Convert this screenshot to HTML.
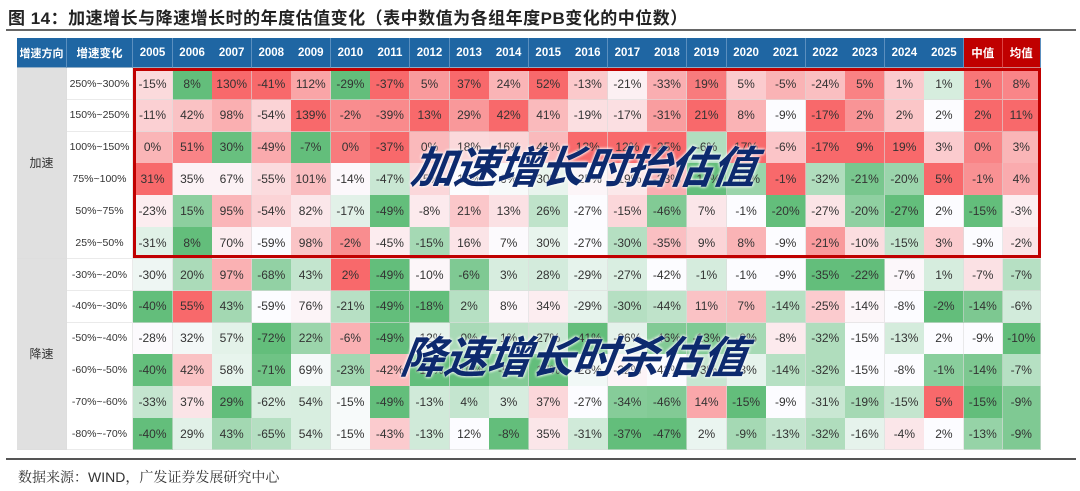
<!DOCTYPE html>
<html><head><meta charset="utf-8">
<style>
body{margin:0;width:1080px;height:491px;background:#fff;position:relative;overflow:hidden;font-family:"Liberation Sans","Noto Sans CJK SC",sans-serif;}
.c{position:absolute;display:flex;align-items:center;justify-content:center;font-size:12px;color:#333;box-sizing:border-box;white-space:nowrap;border-right:1px solid rgba(220,220,220,0.6);border-bottom:1px solid rgba(220,220,220,0.6);}
.h{color:#fff;font-weight:bold;font-size:11.5px;background:#1f66a3;border-right:1px solid #5b8fbf;}
.big{position:absolute;font-size:44px;font-weight:bold;font-style:italic;color:#0d2a6e;letter-spacing:-1px;text-shadow:0 0 3px #fff,0 0 3px #fff;white-space:nowrap;font-family:"Noto Sans CJK SC",sans-serif;transform:skewX(-8deg);}
</style></head><body>
<div style="position:absolute;left:8px;top:4px;font-size:17px;font-weight:bold;color:#222;letter-spacing:0.5px;font-family:'Liberation Sans','Noto Sans CJK SC',sans-serif;">图 14：加速增长与降速增长时的年度估值变化（表中数值为各组年度PB变化的中位数）</div>
<div style="position:absolute;left:6px;top:29px;width:1070px;height:2px;background:#666"></div>
<div style="position:absolute;left:6px;top:458px;width:1070px;height:2px;background:#555"></div>
<div style="position:absolute;left:18px;top:467px;font-size:14px;color:#333;font-family:'Liberation Sans','Noto Serif CJK SC',serif;">数据来源：WIND，广发证券发展研究中心</div>
<div id="t"></div>
<div style="position:absolute;left:133px;top:68px;width:908px;height:190px;border:3px solid #c00000;box-sizing:border-box;"></div>
<div class="big" style="left:412px;top:132px;">加速增长时抬估值</div>
<div class="big" style="left:402px;top:322px;">降速增长时杀估值</div>
<script>
var rows=[
["250%~300%",-15,8,130,-41,112,-29,-37,5,37,24,52,-13,-21,-33,19,5,-5,-24,5,1,1,1,8],
["150%~250%",-11,42,98,-54,139,-2,-39,13,29,42,41,-19,-17,-31,21,8,-9,-17,2,2,2,2,11],
["100%~150%",0,51,30,-49,-7,0,-37,0,18,16,41,13,12,-25,-6,17,-6,-17,9,19,3,0,3],
["75%~100%",31,35,67,-55,101,-14,-47,-5,12,6,30,-25,-19,-33,-17,-10,-1,-32,-21,-20,5,-1,4],
["50%~75%",-23,15,95,-54,82,-17,-49,-8,21,13,26,-27,-15,-46,7,-1,-20,-27,-20,-27,2,-15,-3],
["25%~50%",-31,8,70,-59,98,-2,-45,-15,16,7,30,-27,-30,-35,9,8,-9,-21,-10,-15,3,-9,-2],
["-30%~-20%",-30,20,97,-68,43,2,-49,-10,-6,3,28,-29,-27,-42,-1,-1,-9,-35,-22,-7,1,-7,-7],
["-40%~-30%",-40,55,43,-59,76,-21,-49,-18,2,8,34,-29,-30,-44,11,7,-14,-25,-14,-8,-2,-14,-6],
["-50%~-40%",-28,32,57,-72,22,-6,-49,-12,0,1,27,-41,-26,-46,-13,-9,-8,-32,-15,-13,2,-9,-10],
["-60%~-50%",-40,42,58,-71,69,-23,-42,-18,-10,-5,17,-28,-22,-42,-3,-3,-14,-32,-15,-8,-1,-14,-7],
["-70%~-60%",-33,37,29,-62,54,-15,-49,-13,4,3,37,-27,-34,-46,14,-15,-9,-31,-19,-15,5,-15,-9],
["-80%~-70%",-40,29,43,-65,54,-15,-43,-13,12,-8,35,-31,-37,-47,2,-9,-13,-32,-16,-4,2,-13,-9]];
var T=document.getElementById('t'),h='';
function cell(x,y,w,hh,txt,cls,st){h+='<div class="c '+(cls||'')+'" style="left:'+x+'px;top:'+y+'px;width:'+w+'px;height:'+hh+'px;'+(st||'')+'">'+txt+'</div>';}
var X0=133,W=39.57,HY=38,HH=30,RY=68,RH=31.83;
cell(17,HY,50,HH,'增速方向','h','font-size:11px');cell(67,HY,66,HH,'增速变化','h');
for(var i=0;i<21;i++)cell(X0+i*W,HY,W+0.5,HH,2005+i,'h');
cell(964,HY,38.5,HH,'中值','h','background:#c00000;border-right:1px solid #d44');
cell(1002.5,HY,38.5,HH,'均值','h','background:#c00000');
cell(17,RY,50,RH*6,'加速','','background:#e0e0e0;');
cell(17,RY+RH*6,50,RH*6,'降速','','background:#e0e0e0;');
function lerp(a,b,t){return [0,1,2].map(function(k){return Math.round(a[k]+(b[k]-a[k])*t)});}
var G=[99,190,123],Wt=[252,252,255],R=[248,105,107];
for(var j=0;j<23;j++){
 var col=rows.map(function(r){return r[j+1]}),s=col.slice().sort(function(a,b){return a-b}),mn=s[0],mx=s[11],md=(s[5]+s[6])/2;
 for(var r=0;r<12;r++){
  var v=col[r],c;
  if(v>=md)c=lerp(Wt,R,mx==md?0:(v-md)/(mx-md));else c=lerp(Wt,G,(md-v)/(md-mn));
  var x=j<21?X0+j*W:(j==21?964:1002.5),w=j<21?W+0.5:38.5;
  cell(x,RY+r*RH,w,RH+0.5,v+'%','','background:rgb('+c.join(',')+')');
 }
}
for(var r=0;r<12;r++)cell(67,RY+r*RH,66,RH+0.5,rows[r][0],'','background:#fff;font-size:10.5px');
T.innerHTML=h;
</script>
</body></html>
